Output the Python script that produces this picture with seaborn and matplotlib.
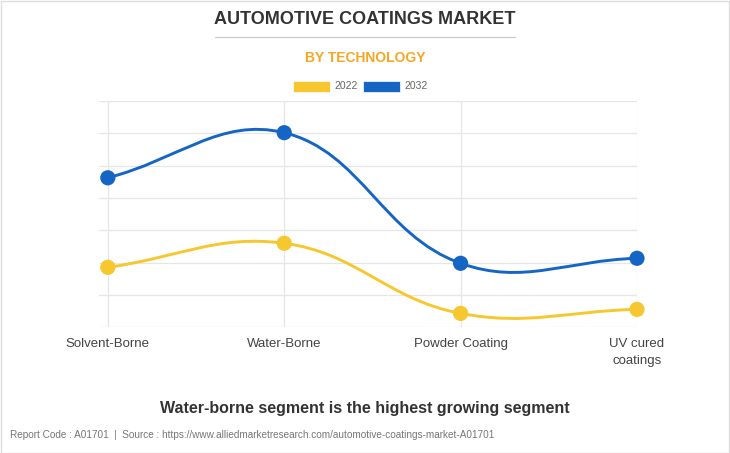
import numpy as np
import pandas as pd
import seaborn as sns
import matplotlib
matplotlib.use("Agg")
import matplotlib.pyplot as plt
from matplotlib.path import Path
from matplotlib.patches import PathPatch, Rectangle

categories = ["Solvent-Borne", "Water-Borne", "Powder Coating", "UV cured\ncoatings"]
values_2022 = [3710, 5200, 860, 1110]
values_2032 = [9250, 12040, 3960, 4270]
series_names = ["2022", "2032"]
colors = {"2022": "#F7C72F", "2032": "#1565C4"}

sns.set_theme(style="white")
plt.rcParams['font.family'] = ['Liberation Sans', 'DejaVu Sans']

W, H = 730, 453
fig = plt.figure(figsize=(W / 100, H / 100), dpi=100)
fig.patch.set_facecolor("white")

left, right, top, bottom = 99, 637, 101, 327.3
ax = fig.add_axes([left / W, 1 - bottom / H, (right - left) / W, (bottom - top) / H])
xmin, xmax = -0.05, 3.0
ymin, ymax = 0, 14000
ax.set_xlim(xmin, xmax)
ax.set_ylim(ymin, ymax)
sx = (right - left) / (xmax - xmin)
sy = (bottom - top) / (ymax - ymin)

df = pd.DataFrame({
    "cat": list(range(len(categories))) * 2,
    "value": values_2022 + values_2032,
    "year": [series_names[0]] * 4 + [series_names[1]] * 4,
})


def spline_path(xs, ys, t=0.4):
    px = np.array(xs, float) * sx
    py = np.array(ys, float) * sy
    n = len(px)
    cps = []
    for i in range(n):
        pp = (px[max(i - 1, 0)], py[max(i - 1, 0)])
        cur = (px[i], py[i])
        nx = (px[min(i + 1, n - 1)], py[min(i + 1, n - 1)])
        d01 = np.hypot(cur[0] - pp[0], cur[1] - pp[1])
        d12 = np.hypot(nx[0] - cur[0], nx[1] - cur[1])
        s = d01 + d12
        fa = t * d01 / s if s else 0
        fb = t * d12 / s if s else 0
        c1 = (cur[0] - fa * (nx[0] - pp[0]), cur[1] - fa * (nx[1] - pp[1]))
        c2 = (cur[0] + fb * (nx[0] - pp[0]), cur[1] + fb * (nx[1] - pp[1]))
        cps.append((c1, c2))
    verts = [(px[0] / sx, py[0] / sy)]
    codes = [Path.MOVETO]
    for i in range(n - 1):
        a = cps[i][1]
        b = cps[i + 1][0]
        verts += [(a[0] / sx, a[1] / sy), (b[0] / sx, b[1] / sy), (px[i + 1] / sx, py[i + 1] / sy)]
        codes += [Path.CURVE4] * 3
    return Path(verts, codes)


for name in series_names:
    sub = df[df["year"] == name]
    path = spline_path(sub["cat"].values, sub["value"].values)
    ax.add_patch(PathPatch(path, facecolor="none", edgecolor=colors[name], lw=2.1, zorder=3))

sns.scatterplot(data=df, x="cat", y="value", hue="year", palette=colors, s=120,
                edgecolor="none", legend=False, ax=ax, zorder=4, clip_on=False)

ax.set_yticks(np.arange(0, 14001, 2000))
ax.set_xticks(range(len(categories)))
ax.set_xticklabels(categories, fontsize=9.5, color="#444444", linespacing=1.55)
ax.set_yticklabels([])
ax.tick_params(axis="x", length=6, color="#e6e6e6", pad=2)
ax.tick_params(axis="y", length=0)
ax.grid(True, color="#e6e6e6", lw=0.9)
for s in ax.spines.values():
    s.set_visible(False)
ax.set_xlabel("")
ax.set_ylabel("")
for lbl in ax.get_xticklabels():
    lbl.set_verticalalignment("top")

# Titles
fig.text(365 / W, 1 - 20 / H, "AUTOMOTIVE COATINGS MARKET", ha="center", va="center",
         fontsize=13, fontweight="bold", color="#333333")
fig.add_artist(plt.Line2D([215 / W, 515 / W], [1 - 37 / H, 1 - 37 / H], color="#cccccc", lw=0.9))
fig.text(365 / W, 1 - 58 / H, "BY TECHNOLOGY", ha="center", va="center",
         fontsize=10, fontweight="bold", color="#F5A623")

# Legend
for x0, name in [(293, "2022"), (363, "2032")]:
    fig.add_artist(Rectangle((x0 / W, 1 - 91.5 / H), 37 / W, 11 / H, facecolor=colors[name],
                             edgecolor="white", lw=0.5, transform=fig.transFigure))
    fig.text((x0 + 41) / W, 1 - 86 / H, name, ha="left", va="center", fontsize=7.5, color="#666666")

fig.text(365 / W, 1 - 408 / H, "Water-borne segment is the highest growing segment", ha="center",
         va="center", fontsize=11.5, fontweight="bold", color="#333333")
fig.text(10 / W, 1 - 435 / H,
         "Report Code : A01701  |  Source : https://www.alliedmarketresearch.com/automotive-coatings-market-A01701",
         ha="left", va="center", fontsize=7.2, color="#777777")

fig.add_artist(Rectangle((0.5 / W, 0.5 / H), (W - 1.5) / W, (H - 1.5) / H, facecolor="none",
                         edgecolor="#dddddd", lw=1, transform=fig.transFigure))

fig.savefig("out.png", dpi=100)
